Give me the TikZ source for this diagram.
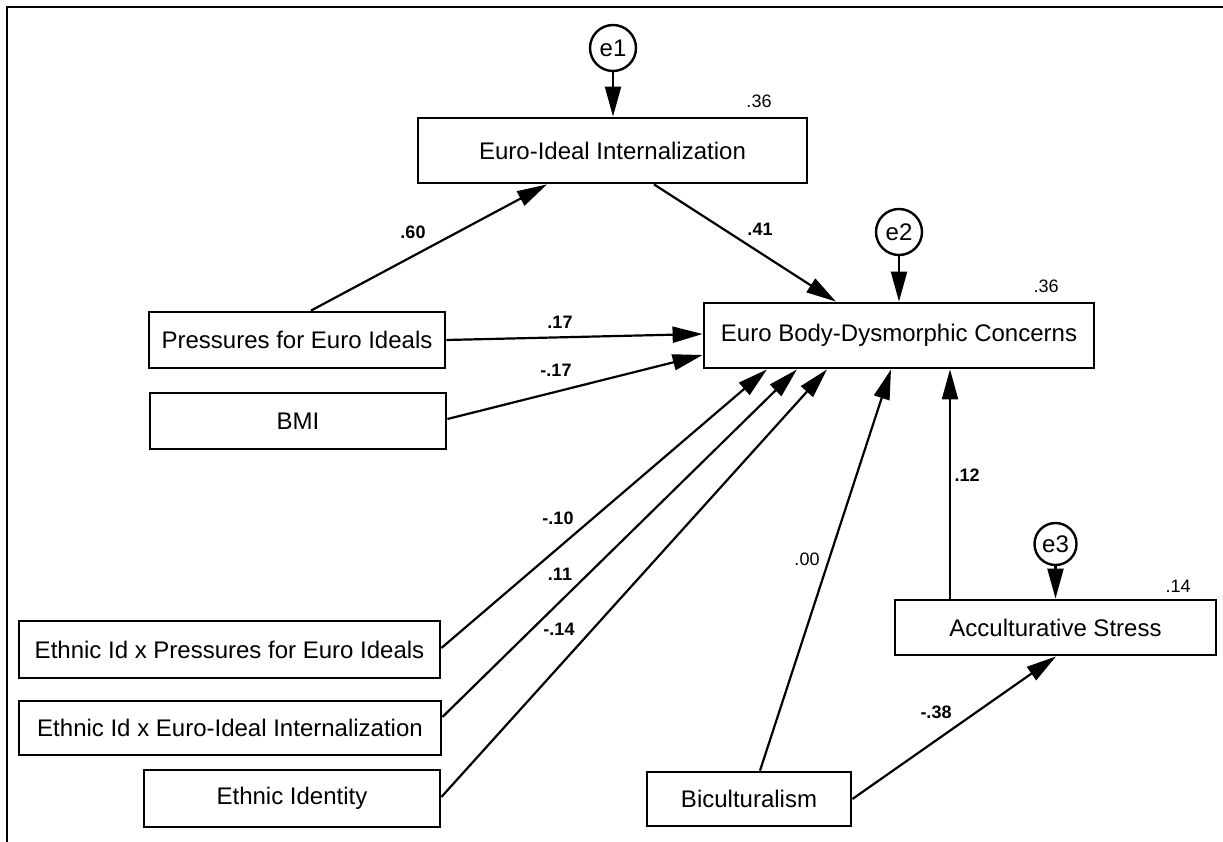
\documentclass[tikz,border=0pt]{standalone}
\usepackage{fontspec}
\setmainfont{Liberation Sans}
\usetikzlibrary{arrows.meta}
\begin{document}
\begin{tikzpicture}[x=1pt,y=-1pt,
  box/.style={draw, line width=2.8pt, inner sep=0pt, font=\fontsize{24}{28}\selectfont},
  err/.style={draw, circle, line width=2.4pt, minimum size=#1, inner sep=0pt, font=\fontsize{24}{28}\selectfont},
  arr/.style={line width=2.2pt, -{Triangle[length=30pt,width=16pt]}},
  lab/.style={inner sep=0pt, font=\fontsize{18}{20}\selectfont\bfseries},
  rlab/.style={inner sep=0pt, font=\fontsize{18}{20}\selectfont}]
\path[fill=white,use as bounding box] (0,0) rectangle (1223,842);
% frame (only left and top edges visible)
\draw[line width=2.8pt] (7,860) -- (7,7) -- (1240,7);

% boxes
\node[box, minimum width=389pt, minimum height=65pt] (EII) at (612.5,150.5) {Euro-Ideal Internalization};
\node[box, minimum width=296pt, minimum height=56pt] (PEI) at (297,340) {Pressures for Euro Ideals};
\node[box, minimum width=296pt, minimum height=56pt] (BMI) at (298,421) {BMI};
\node[box, minimum width=390pt, minimum height=65pt] (EBDC) at (899,335.5) {Euro Body-Dysmorphic Concerns};
\node[box, minimum width=421pt, minimum height=57pt] (EIP) at (229.5,649.5) {Ethnic Id x Pressures for Euro Ideals};
\node[box, minimum width=422pt, minimum height=54pt] (EIE) at (230,728) {Ethnic Id x Euro-Ideal Internalization};
\node[box, minimum width=296pt, minimum height=57pt] (EI) at (292,798.5) {Ethnic Identity};
\node[box, minimum width=321pt, minimum height=55pt] (AS) at (1055.5,627.5) {Acculturative Stress};
\node[box, minimum width=204pt, minimum height=54pt] (BIC) at (749,799) {Biculturalism};

% error terms
\node[err=46pt] (e1) at (613,48) {e1};
\node[err=46pt] (e2) at (899,232) {e2};
\node[err=42pt] (e3) at (1055.5,544) {e3};

% connectors
\draw[arr] (e1.south) -- (EII.north -| e1.south);
\draw[arr] (e2.south) -- (EBDC.north);
\draw[arr] (e3.south) -- (AS.north);
\draw[arr] (PEI.north -| 311,0) -- (EII.south -| 547,0);
\draw[arr] (EII.south -| 654,0) -- (EBDC.north -| 836,0);
\draw[arr] (PEI.east) -- (EBDC.west |- 0,334);
\draw[arr] (BMI.east |- 0,419) -- (EBDC.west |- 0,355);
\draw[arr] (EIP.east |- 0,648) -- (EBDC.south -| 767,0);
\draw[arr] (EIE.east |- 0,717) -- (EBDC.south -| 797,0);
\draw[arr] (EI.east |- 0,797) -- (EBDC.south -| 827,0);
\draw[arr] (BIC.north -| 760,0) -- (EBDC.south -| 891,0);
\draw[arr] (AS.north -| 950,0) -- (EBDC.south -| 950,0);
\draw[arr] (BIC.east) -- (AS.south -| 1056,0);

% coefficient labels
\node[rlab] (r1) at (759,101) {.36};
\node[rlab] (r2) at (1046,286) {.36};
\node[rlab] (r3) at (1178,586) {.14};
\node[rlab] (c00) at (807,559) {.00};
\node[lab] (c60) at (413,232) {.60};
\node[lab] (c41) at (760,229) {.41};
\node[lab] (c17) at (560,322) {.17};
\node[lab] (cm17) at (556,370) {-.17};
\node[lab] (cm10) at (558,518) {-.10};
\node[lab] (c11) at (560,574) {.11};
\node[lab] (cm14) at (559,629) {-.14};
\node[lab] (c12) at (967,475) {.12};
\node[lab] (cm38) at (936,712) {-.38};
\end{tikzpicture}
\end{document}
